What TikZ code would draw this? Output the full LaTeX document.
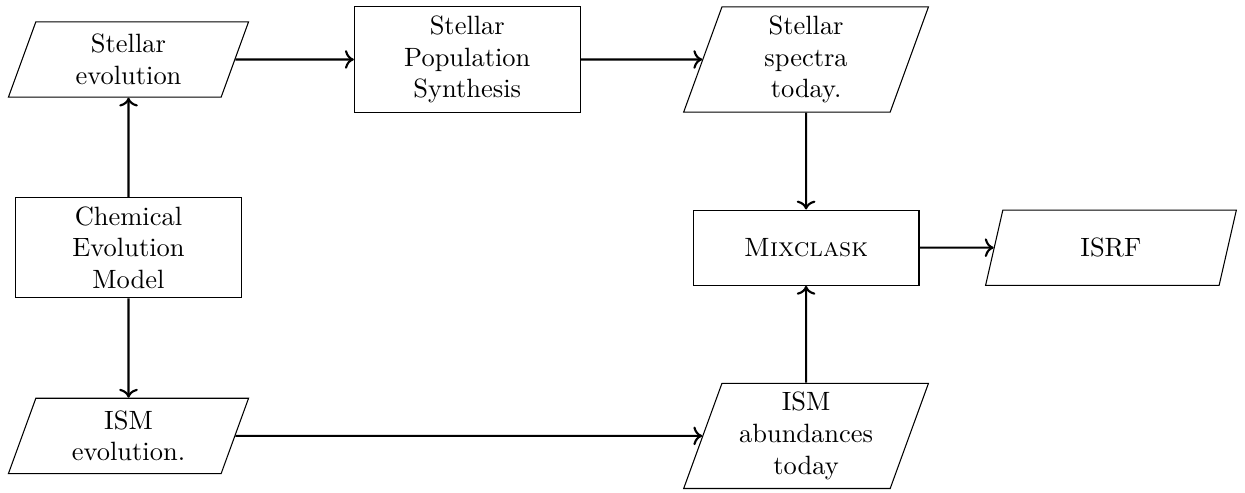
\documentclass[tikz,border=0pt]{standalone}
\usepackage{tikz}
\usetikzlibrary{shapes.geometric,arrows.meta,positioning}

\begin{document}
\begin{tikzpicture}[
  process/.style={rectangle, draw, minimum width=3cm, minimum height=1cm, text centered, text width=2cm},
  io/.style={trapezium, trapezium left angle=70, trapezium right angle=110, trapezium stretches=true, draw, minimum width=3.2cm, minimum height=1cm, text centered, text width=2cm},
  arrow/.style={->, thick}
]
  \useasboundingbox (-1.707,-5.757) rectangle (14.83,0.79);

  \node[io] (stelev) at (0,0) {Stellar evolution};
  \node[process] (sps) at (4.5,0) {Stellar Population Synthesis};
  \node[io] (spectra) at (9,0) {Stellar spectra today.};
  \node[process] (cem) at (0,-2.5) {Chemical Evolution Model};
  \node[process] (mix) at (9,-2.5) {\textsc{Mixclask}};
  \node[io, minimum width=3.35cm] (isrf) at (13.05,-2.5) {ISRF};
  \node[io] (ismev) at (0,-5) {ISM evolution.};
  \node[io] (ismab) at (9,-5) {ISM abundances today};

  \draw[arrow] (stelev) -- (sps);
  \draw[arrow] (sps) -- (spectra);
  \draw[arrow] (spectra) -- (mix);
  \draw[arrow] (cem) -- (stelev);
  \draw[arrow] (cem) -- (ismev);
  \draw[arrow] (ismev) -- (ismab);
  \draw[arrow] (ismab) -- (mix);
  \draw[arrow] (mix) -- (isrf);
\end{tikzpicture}
\end{document}
